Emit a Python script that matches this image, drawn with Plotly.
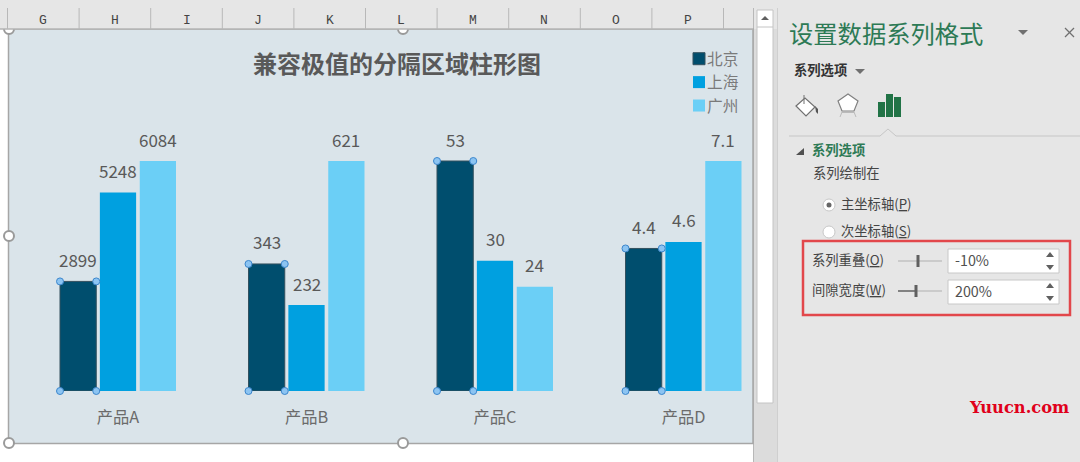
import plotly.graph_objects as go

categories = ["产品A", "产品B", "产品C", "产品D"]
beijing = [2899, 343, 53, 4.4]
shanghai = [5248, 232, 30, 4.6]
guangzhou = [6084, 621, 24, 7.1]
series_names = ["北京", "上海", "广州"]
series_colors = ["#004E6E", "#00A0E0", "#6BCFF6"]
title_text = "兼容极值的分隔区域柱形图"
col_letters = ["G", "H", "I", "J", "K", "L", "M", "N", "O", "P"]

FONT = "Noto Sans CJK SC"
W, H, BASE = 1080, 462, 391

group_max = [max(t) for t in zip(beijing, shanghai, guangzhou)]
series = [beijing, shanghai, guangzhou]
shares = [[v / m for v, m in zip(s, group_max)] for s in series]
xs = list(range(len(categories)))

# geometry equals Excel settings: gap 200 %, overlap -10 %
bar_w = 1 / 5.2
pitch = 1.1 * bar_w

fig = go.Figure()

for name, color, sh, vals in zip(series_names, series_colors, shares, series):
    is_sel = name == "北京"
    fig.add_bar(x=xs, y=sh, name=name, customdata=vals,
                marker=dict(color=color, line=dict(color="#33505F" if is_sel else color, width=1 if is_sel else 0)),
                cliponaxis=False)

# selection handles of the selected series
hx, hy = [], []
for i, s in zip(xs, shares[0]):
    c = i - pitch
    hx += [c - bar_w / 2, c + bar_w / 2, c - bar_w / 2, c + bar_w / 2]
    hy += [s, s, 0, 0]
fig.add_scatter(x=hx, y=hy, mode="markers", showlegend=False, cliponaxis=False, hoverinfo="skip",
                marker=dict(size=7, color="#8CC4F2", line=dict(color="#3C86CC", width=1)))

annotations = []
for k, (sh, vals) in enumerate(zip(shares, series)):
    for i, s, v in zip(xs, sh, vals):
        annotations.append(dict(x=i + (k - 1) * pitch, y=s, xref="x", yref="y", text=str(v), showarrow=False,
                                yshift=22, yanchor="middle", font=dict(family=FONT, size=17, color="#595959")))


def px(x):
    return x / W


def py(y):
    return (BASE - y) / BASE


shapes = []


def rect(x0, y0, x1, y1, fill=None, line=None, lw=1):
    shapes.append(dict(type="rect", xref="paper", yref="paper", x0=px(x0), x1=px(x1), y0=py(y0), y1=py(y1),
                       fillcolor=fill or "rgba(0,0,0,0)", layer="below",
                       line=dict(color=line or "rgba(0,0,0,0)", width=lw if line else 0)))


def seg(x0, y0, x1, y1, color, lw=1):
    shapes.append(dict(type="line", xref="paper", yref="paper", x0=px(x0), x1=px(x1), y0=py(y0), y1=py(y1),
                       layer="below", line=dict(color=color, width=lw)))


def circle(cx, cy, r, fill, line, lw=1.5):
    shapes.append(dict(type="circle", xref="paper", yref="paper", x0=px(cx - r), x1=px(cx + r), y0=py(cy - r),
                       y1=py(cy + r), fillcolor=fill, layer="below", line=dict(color=line, width=lw)))


def poly(pts, fill=None, line=None, lw=1):
    d = "M" + " L".join(f"{px(a):.5f},{py(b):.5f}" for a, b in pts) + " Z"
    shapes.append(dict(type="path", path=d, xref="paper", yref="paper", layer="below",
                       fillcolor=fill or "rgba(0,0,0,0)",
                       line=dict(color=line or "rgba(0,0,0,0)", width=lw if line else 0)))


def label(x, y, text, size=13.3, color="#444444", anchor="left", family=FONT):
    annotations.append(dict(x=px(x), y=py(y), xref="paper", yref="paper", text=text, showarrow=False, xanchor=anchor,
                            yanchor="middle", font=dict(family=family, size=size, color=color),
                            borderpad=0, borderwidth=0))


# task pane and scrollbar backgrounds
rect(753, 0, 1080, 462, "#E6E6E6")
rect(753, 29, 778, 462, "#DCDCDC")
seg(753.5, 8, 753.5, 462, "#B8B8B8")
seg(777.5, 8, 777.5, 462, "#CFCFCF")
rect(757, 10, 773, 403, "#FFFFFF", "#C4C4C4")
seg(757, 27, 773, 27, "#C4C4C4")
poly([(765, 16), (769, 20), (761, 20)], "#606060")

# chart area
rect(8.5, 29, 753, 443.5, "#DAE4EA", "#A6A6A6", 1.5)
for cx, cy in [(9, 29), (403, 29), (9, 236), (403, 443), (9, 443)]:
    circle(cx, cy, 5, "#FFFFFF", "#9A9A9A", 2)

# column header
rect(0, 0, 753, 29, "#E6E6E6")
seg(0, 29, 753, 29, "#B4B4B4", 1.5)
for j in range(11):
    x = 7.5 + j * 71.6
    seg(x, 8, x, 29, "#B8B8B8")
for j, letter in enumerate(col_letters):
    label(43.3 + j * 71.6, 20.5, letter, 13, "#444444", "center", "Liberation Mono")

# pane header
label(789, 32.5, "设置数据系列格式", 24.3, "#2D7A55")
poly([(1018, 30), (1028, 30), (1023, 35)], "#707070")
seg(1065, 28, 1074, 37, "#707070", 1.3)
seg(1074, 28, 1065, 37, "#707070", 1.3)
label(794, 69.5, "<b>系列选项</b>", 13.3, "#333333")
poly([(855, 69), (865, 69), (860, 74)], "#707070")

# pane icons
poly([(796, 106), (805, 98), (815, 107), (806, 116)], "#FFFFFF", "#707070", 1.2)
seg(804, 95, 804, 104, "#707070", 1)
poly([(815, 106), (818, 109), (818, 114), (816, 112)], "#555555")
poly([(848, 94), (858, 101), (854, 111), (842, 111), (838, 101)], "#FFFFFF", "#808080", 1.2)
seg(842, 112, 840, 117, "#BBBBBB", 1)
seg(854, 112, 856, 117, "#BBBBBB", 1)
seg(842, 112.5, 854, 112.5, "#BBBBBB", 1)
rect(878, 102, 885, 117, "#217346")
rect(886, 94, 893, 117, "#217346")
rect(894, 97, 901, 117, "#217346")
shapes.append(dict(type="path", xref="paper", yref="paper", layer="below", line=dict(color="#C6C6C6", width=1),
                   path="M" + " L".join(f"{px(a):.5f},{py(b):.5f}" for a, b in
                                        [(789, 136), (880, 136), (888, 129), (896, 136), (1080, 136)])))

# section
poly([(796, 155), (804, 155), (804, 148)], "#505050")
label(812, 149.5, "<b>系列选项</b>", 13.3, "#2D7A55")
label(813, 172.5, "系列绘制在")
circle(829, 205, 6, "#FFFFFF", "#C8C8C8", 1)
circle(829, 205, 2.5, "#666666", "#666666", 0)
U = '<span style="text-decoration:underline">%s</span>'
label(841, 203.5, "主坐标轴(" + U % "P" + ")")
circle(829, 232, 6, "#FFFFFF", "#C8C8C8", 1)
label(841, 230.5, "次坐标轴(" + U % "S" + ")")

# red highlight
rect(803, 241, 1070, 315, None, "#E2474B", 2.5)
label(812, 259.5, "系列重叠(" + U % "O" + ")")
label(812, 289.5, "间隙宽度(" + U % "W" + ")")
seg(898, 261, 942, 261, "#B0B0B0")
rect(916.5, 255, 919.5, 267, "#606060")
seg(898, 291, 916, 291, "#606060", 1.5)
seg(916, 291, 942, 291, "#B0B0B0")
rect(914.5, 285, 917.5, 297, "#606060")
for y0, txt in [(249, "-10%"), (280, "200%")]:
    rect(948, y0, 1059, y0 + 24, "#FFFFFF", "#C8C8C8")
    label(955, y0 + 10.5, txt, 14.3, "#505050")
    poly([(1050, y0 + 3), (1054, y0 + 8), (1046, y0 + 8)], "#606060")
    poly([(1046, y0 + 16), (1054, y0 + 16), (1050, y0 + 21)], "#606060")

# watermark
label(969, 407, "<b>Yuucn.com</b>", 16.3, "#E0001B", "left", "DejaVu Serif")

fig.update_layout(
    width=W, height=H, margin=dict(l=0, r=0, t=0, b=H - BASE, autoexpand=False),
    paper_bgcolor="#FFFFFF", plot_bgcolor="rgba(0,0,0,0)",
    barmode="group", bargap=1 - 3.3 / 5.2, bargroupgap=0.1 / 1.1,
    title=dict(text="<b>" + title_text + "</b>", x=397 / W, y=1 - 65 / H, xanchor="center", yanchor="middle",
               xref="paper", yref="container", font=dict(family=FONT, size=24, color="#595959")),
    xaxis=dict(range=[-118 / 188.5, (W - 118) / 188.5], tickmode="array", tickvals=xs, ticktext=categories,
               showgrid=False, zeroline=False, showline=False, ticks="", ticklabelstandoff=15,
               tickfont=dict(family=FONT, size=16.3, color="#6B6B6B"), fixedrange=True),
    yaxis=dict(range=[0, BASE / 230], visible=False, fixedrange=True),
    legend=dict(x=744 / W, xanchor="right", y=py(42), yanchor="top", bgcolor="rgba(0,0,0,0)", borderwidth=0,
                font=dict(family=FONT, size=15.7, color="#7A7A7A"), traceorder="normal", itemclick=False,
                itemdoubleclick=False),
    font=dict(family=FONT),
    shapes=shapes, annotations=annotations, showlegend=True, hovermode=False,
)

# the swatch sits right next to its text in the reference; plotly keeps a wider gap
post = """
document.body.style.margin='0';document.body.style.overflow='hidden';
function moveSwatches(){document.querySelectorAll('.legendsymbols').forEach(function(g){g.setAttribute('transform','translate(12,0)');});}
moveSwatches();setTimeout(moveSwatches,50);setTimeout(moveSwatches,300);
"""
fig.write_html("out.html", config=dict(displayModeBar=False, responsive=False), post_script=post)
